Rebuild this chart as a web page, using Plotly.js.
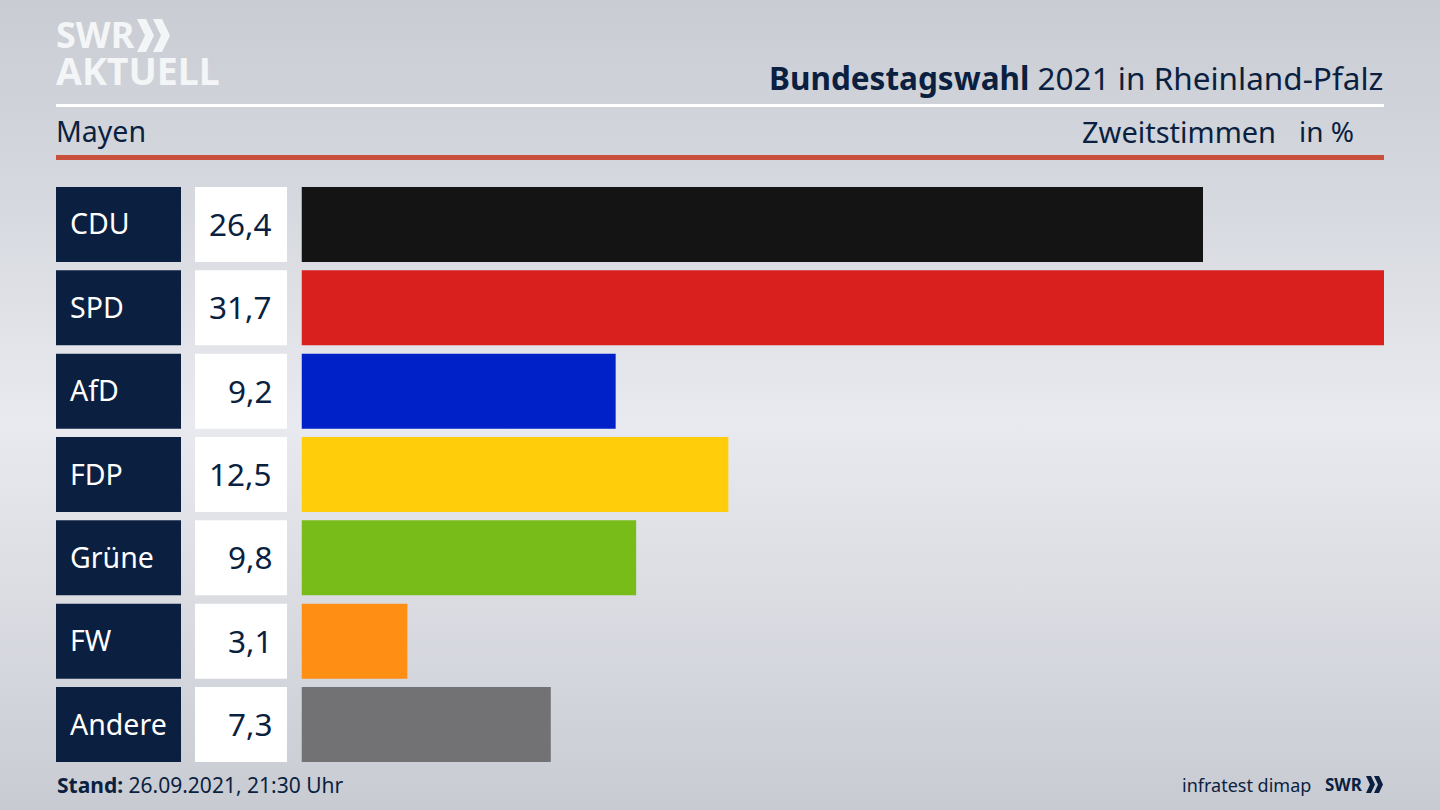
<!DOCTYPE html>
<html><head><meta charset="utf-8">
<script src="https://cdn.plot.ly/plotly-3.0.1.min.js"></script>
<style>
html,body{margin:0;padding:0;width:1440px;height:810px;overflow:hidden;
background:linear-gradient(180deg,#c9ccd3 0%,#d4d7dd 22%,#e9eaef 52%,#d9dbe1 76%,#c8cbd2 100%);}
#c{width:1440px;height:810px}
</style></head><body><div id="c"></div>
<script>
const parties=["CDU","SPD","AfD","FDP","Grüne","FW","Andere"];
const shares=[26.4,31.7,9.2,12.5,9.8,3.1,7.3];
const shareLabels=["26,4","31,7","9,2","12,5","9,8","3,1","7,3"];
const barColors=["#141414","#d9201f","#0020c8","#ffcd0a","#78bc1a","#ff8e14","#727274"];
const navy="#0b1f40";
const font="'Noto Sans', sans-serif";
const W=1440,H=810;
const px=x=>x/W, py=y=>1-y/H;
const one=parties.map(()=>1);
const rowWidth=0.9;
const traces=[
 {type:"bar",orientation:"h",y:parties,x:one,xaxis:"x2",yaxis:"y",width:rowWidth,marker:{color:"#0b1f40",line:{width:0}},hoverinfo:"skip"},
 {type:"bar",orientation:"h",y:parties,x:one,xaxis:"x3",yaxis:"y",width:rowWidth,marker:{color:"#ffffff",line:{width:0}},hoverinfo:"skip"},
 {type:"bar",orientation:"h",y:parties,x:shares,xaxis:"x",yaxis:"y",width:rowWidth,marker:{color:barColors,line:{width:0}}}
];
function note(text,x,y,size,color,anchor,extra){
 return Object.assign({text,xref:"paper",yref:"paper",x:px(x),y:py(y),xanchor:anchor,yanchor:"middle",showarrow:false,
  font:{family:font,size,color},borderpad:0},extra||{});
}
const annotations=[
 note('<b><span style="font-size:36px">SWR</span></b><br><b><span style="font-size:37.5px">AKTUELL</span></b>',55,53.5,28.5,"#f4f5f7","left",{align:"left"}),
 note("<b>Bundestagswahl</b> 2021 in Rheinland-Pfalz",1384,77.5,31.5,navy,"right"),
 note("Mayen",55,131.5,28.5,navy,"left"),
 note("Zweitstimmen",1277,131.5,29,navy,"right"),
 note("in %",1355,131.5,28,navy,"right"),
 note("<b>Stand:</b> 26.09.2021, 21:30 Uhr",55.5,785,21,navy,"left"),
 note("infratest dimap",1312,785,18,navy,"right"),
 note("<b>SWR</b>",1323.5,784,17,navy,"left")
];
parties.forEach((p,i)=>{
 annotations.push({text:p,xref:"x2",yref:"y",x:0,y:p,xanchor:"left",xshift:12,yshift:1,yanchor:"middle",showarrow:false,font:{family:font,size:28.5,color:"#ffffff"}});
 annotations.push({text:shareLabels[i],xref:"x3",yref:"y",x:1,y:p,xanchor:"right",xshift:-13,yshift:1,yanchor:"middle",showarrow:false,font:{family:font,size:31.5,color:navy}});
});
function chevron(x0,y0,w,h,t,color){
 const a=[[x0,y0],[x0+t,y0],[x0+w,y0+h/2],[x0+t,y0+h],[x0,y0+h],[x0+w-t,y0+h/2]];
 return {type:"path",xref:"paper",yref:"paper",line:{width:0},fillcolor:color,
  path:"M"+a.map(p=>px(p[0])+","+py(p[1])).join("L")+"Z"};
}
function hline(x0,x1,y0,y1,color){
 return {type:"rect",xref:"paper",yref:"paper",x0:px(x0),x1:px(x1),y0:py(y0),y1:py(y1),fillcolor:color,line:{width:0}};
}
const shapes=[
 hline(56,1384,104,107,"#ffffff"),
 hline(56,1384,155,160,"#c9503c"),
 chevron(137,19,17,33,9,"#f4f5f7"),
 chevron(153,19,17,33,9,"#f4f5f7"),
 chevron(1366,776,9,17,5,navy),
 chevron(1374,776,9,17,5,navy)
];
const hidden={showgrid:false,zeroline:false,showticklabels:false,ticks:"",showline:false,fixedrange:true};
const layout={width:W,height:H,margin:{l:0,r:0,t:0,b:0},paper_bgcolor:"rgba(0,0,0,0)",plot_bgcolor:"rgba(0,0,0,0)",
 barmode:"overlay",showlegend:false,annotations,shapes,
 xaxis:Object.assign({},hidden,{domain:[px(301.5),px(1384)],range:[0,31.7],anchor:"y"}),
 xaxis2:Object.assign({},hidden,{domain:[px(56),px(181)],range:[0,1],anchor:"y"}),
 xaxis3:Object.assign({},hidden,{domain:[px(195),px(287)],range:[0,1],anchor:"y"}),
 yaxis:Object.assign({},hidden,{domain:[py(762),py(187)],range:[6.45,-0.45],type:"category",categoryorder:"array",categoryarray:parties})
};
Plotly.newPlot("c",traces,layout,{displayModeBar:false,staticPlot:true});
</script></body></html>
